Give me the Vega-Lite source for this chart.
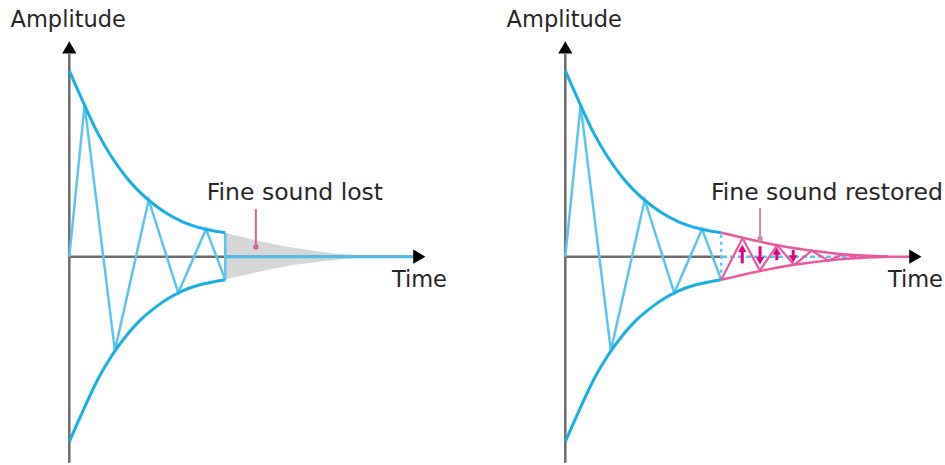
{
  "$schema": "https://vega.github.io/schema/vega-lite/v6.json",
  "background": "white",
  "padding": 0,
  "spacing": 5,
  "config": {"view": {"stroke": null}, "text": {"font": "DejaVu Sans", "fontSize": 22.5, "color": "#262626"}},
  "resolve": {"scale": {"x": "independent", "y": "independent", "shape": "independent"}},
  "datasets": {
    "env": [
      {"t": 0, "a": 1.0, "side": "u"}, {"t": 4, "a": 0.827, "side": "u"}, {"t": 8, "a": 0.664, "side": "u"}, {"t": 12, "a": 0.533, "side": "u"}, {"t": 16, "a": 0.427, "side": "u"}, {"t": 20, "a": 0.343, "side": "u"}, {"t": 24, "a": 0.278, "side": "u"}, {"t": 28, "a": 0.225, "side": "u"}, {"t": 32, "a": 0.186, "side": "u"}, {"t": 36, "a": 0.159, "side": "u"}, {"t": 40, "a": 0.141, "side": "u"}, {"t": 43.8, "a": 0.129, "side": "u"},
      {"t": 0, "a": -0.995, "side": "l"}, {"t": 4, "a": -0.822, "side": "l"}, {"t": 8, "a": -0.66, "side": "l"}, {"t": 12, "a": -0.53, "side": "l"}, {"t": 16, "a": -0.425, "side": "l"}, {"t": 20, "a": -0.34, "side": "l"}, {"t": 24, "a": -0.275, "side": "l"}, {"t": 28, "a": -0.222, "side": "l"}, {"t": 32, "a": -0.182, "side": "l"}, {"t": 36, "a": -0.155, "side": "l"}, {"t": 40, "a": -0.137, "side": "l"}, {"t": 43.8, "a": -0.124, "side": "l"}
    ],
    "envP": [
      {"t": 43.8, "a": 0.129, "side": "u"}, {"t": 48, "a": 0.11, "side": "u"}, {"t": 52, "a": 0.092, "side": "u"}, {"t": 56, "a": 0.075, "side": "u"}, {"t": 60, "a": 0.06, "side": "u"}, {"t": 65, "a": 0.044, "side": "u"}, {"t": 70, "a": 0.03, "side": "u"}, {"t": 75, "a": 0.019, "side": "u"}, {"t": 80, "a": 0.011, "side": "u"}, {"t": 85, "a": 0.005, "side": "u"}, {"t": 90.6, "a": 0, "side": "u"},
      {"t": 43.8, "a": -0.124, "side": "l"}, {"t": 48, "a": -0.106, "side": "l"}, {"t": 52, "a": -0.088, "side": "l"}, {"t": 56, "a": -0.072, "side": "l"}, {"t": 60, "a": -0.057, "side": "l"}, {"t": 65, "a": -0.042, "side": "l"}, {"t": 70, "a": -0.029, "side": "l"}, {"t": 75, "a": -0.018, "side": "l"}, {"t": 80, "a": -0.01, "side": "l"}, {"t": 85, "a": -0.004, "side": "l"}, {"t": 90.6, "a": 0, "side": "l"}
    ],
    "gray": [
      {"t": 43.7, "a": 0.129, "a2": -0.124}, {"t": 48, "a": 0.108, "a2": -0.104}, {"t": 52, "a": 0.09, "a2": -0.086}, {"t": 56, "a": 0.073, "a2": -0.07}, {"t": 60, "a": 0.058, "a2": -0.055}, {"t": 65, "a": 0.042, "a2": -0.04}, {"t": 70, "a": 0.028, "a2": -0.027}, {"t": 75, "a": 0.017, "a2": -0.016}, {"t": 80, "a": 0.009, "a2": -0.008}, {"t": 85, "a": 0.003, "a2": -0.003}, {"t": 88, "a": 0, "a2": 0}
    ],
    "osc": [
      {"t": 0, "a": 0}, {"t": 4.3, "a": 0.815}, {"t": 12.8, "a": -0.505}, {"t": 22.3, "a": 0.305}, {"t": 30.6, "a": -0.195}, {"t": 38.4, "a": 0.148}, {"t": 43.8, "a": -0.124}
    ],
    "zig": [
      {"t": 43.8, "a": -0.124}, {"t": 49.8, "a": 0.1}, {"t": 54.6, "a": -0.075}, {"t": 59.5, "a": 0.061}, {"t": 64.3, "a": -0.044}, {"t": 69.2, "a": 0.032}, {"t": 73.9, "a": -0.021}, {"t": 78.3, "a": 0.014}, {"t": 82.4, "a": -0.008}, {"t": 86.2, "a": 0.004}, {"t": 90.6, "a": 0}
    ],
    "shafts": [
      {"t": 49.7, "a": -0.036, "a2": 0.045}, {"t": 54.7, "a": 0.056, "a2": -0.022}, {"t": 59.4, "a": -0.019, "a2": 0.03}, {"t": 64.0, "a": 0.037, "a2": -0.012}
    ],
    "heads": [
      {"t": 49.7, "a": 0.045, "dir": "up"}, {"t": 54.7, "a": -0.022, "dir": "down"}, {"t": 59.4, "a": 0.03, "dir": "up"}, {"t": 64.0, "a": -0.012, "dir": "down"}
    ],
    "tips": [
      {"t": 0, "a": 1.125, "dir": "up"}, {"t": 98.3, "a": 0, "dir": "right"}
    ],
    "axesL": [
      {"t": 0, "t2": 0, "a": -1.108, "a2": 1.09}, {"t": 0, "t2": 97, "a": 0, "a2": 0}
    ],
    "axesR": [
      {"t": 0, "t2": 0, "a": -1.108, "a2": 1.09}, {"t": 0, "t2": 44, "a": 0, "a2": 0}
    ],
    "tailL": [{"t": 43.7, "t2": 97, "a": 0, "a2": 0}],
    "dashR": [{"t": 44, "t2": 86, "a": 0, "a2": 0}],
    "pinkR": [{"t": 84, "t2": 97, "a": 0, "a2": 0}],
    "cut": [{"t": 43.8, "t2": 43.8, "a": -0.124, "a2": 0.129}],
    "ptrL": [{"t": 52.4, "a": 0.052, "a2": 0.256}],
    "ptrR": [{"t": 54.7, "a": 0.095, "a2": 0.262}],
    "labL": [
      {"t": -0.3, "a": 1.273, "label": "Amplitude", "pos": "c"},
      {"t": 90.6, "a": -0.125, "label": "Time", "pos": "t"},
      {"t": 38.6, "a": 0.342, "label": "Fine sound lost", "pos": "f"}
    ],
    "labR": [
      {"t": -0.3, "a": 1.273, "label": "Amplitude", "pos": "c"},
      {"t": 90.6, "a": -0.125, "label": "Time", "pos": "t"},
      {"t": 40.9, "a": 0.342, "label": "Fine sound restored", "pos": "f"}
    ]
  },
  "hconcat": [
    {
      "width": 470,
      "height": 465,
      "encoding": {
        "x": {"field": "t", "type": "quantitative", "axis": null, "scale": {"domain": [-19.46, 112.54], "nice": false, "zero": false}},
        "y": {"field": "a", "type": "quantitative", "axis": null, "scale": {"domain": [-1.12, 1.38], "nice": false, "zero": false}}
      },
      "layer": [
        {"data": {"name": "gray"}, "mark": {"type": "area", "color": "#d6d6d6", "interpolate": "monotone"}, "encoding": {"y2": {"field": "a2"}}},
        {"data": {"name": "axesL"}, "mark": {"type": "rule", "color": "#6d6d6d", "strokeWidth": 2.5}, "encoding": {"x2": {"field": "t2"}, "y2": {"field": "a2"}}},
        {"data": {"name": "tailL"}, "mark": {"type": "rule", "color": "#4fbbe8", "strokeWidth": 3}, "encoding": {"x2": {"field": "t2"}, "y2": {"field": "a2"}}},
        {"data": {"name": "osc"}, "mark": {"type": "line", "color": "#5ec4ef", "strokeWidth": 2.5}, "encoding": {}},
        {"data": {"name": "cut"}, "mark": {"type": "rule", "color": "#5ec4ef", "strokeWidth": 2.5}, "encoding": {"x2": {"field": "t2"}, "y2": {"field": "a2"}}},
        {"data": {"name": "env"}, "mark": {"type": "line", "color": "#19aee6", "strokeWidth": 3, "interpolate": "monotone"}, "encoding": {"detail": {"field": "side"}}},
        {"data": {"name": "tips"}, "mark": {"type": "point", "filled": true, "color": "#000000", "size": 200, "opacity": 1}, "encoding": {"shape": {"field": "dir", "legend": null, "scale": {"domain": ["up", "right", "down"], "range": ["triangle-up", "triangle-right", "triangle-down"]}}}},
        {"data": {"name": "ptrL"}, "mark": {"type": "rule", "color": "#d0649c", "strokeWidth": 2}, "encoding": {"y2": {"field": "a2"}}},
        {"data": {"name": "ptrL"}, "mark": {"type": "point", "filled": true, "color": "#d0649c", "size": 30, "opacity": 1}, "encoding": {}},
        {"data": {"name": "labL"}, "transform": [{"filter": "datum.pos == 'c'"}], "mark": {"type": "text", "align": "center", "baseline": "middle"}, "encoding": {"text": {"field": "label"}}},
        {"data": {"name": "labL"}, "transform": [{"filter": "datum.pos == 't'"}], "mark": {"type": "text", "align": "left", "baseline": "middle"}, "encoding": {"text": {"field": "label"}}},
        {"data": {"name": "labL"}, "transform": [{"filter": "datum.pos == 'f'"}], "mark": {"type": "text", "align": "left", "baseline": "middle", "fontSize": 23.5}, "encoding": {"text": {"field": "label"}}}
      ]
    },
    {
      "width": 470,
      "height": 465,
      "encoding": {
        "x": {"field": "t", "type": "quantitative", "axis": null, "scale": {"domain": [-25.36, 106.64], "nice": false, "zero": false}},
        "y": {"field": "a", "type": "quantitative", "axis": null, "scale": {"domain": [-1.12, 1.38], "nice": false, "zero": false}}
      },
      "layer": [
        {"data": {"name": "axesR"}, "mark": {"type": "rule", "color": "#6d6d6d", "strokeWidth": 2.5}, "encoding": {"x2": {"field": "t2"}, "y2": {"field": "a2"}}},
        {"data": {"name": "dashR"}, "mark": {"type": "rule", "color": "#5ec4ef", "strokeWidth": 2.5, "strokeDash": [5, 3]}, "encoding": {"x2": {"field": "t2"}, "y2": {"field": "a2"}}},
        {"data": {"name": "pinkR"}, "mark": {"type": "rule", "color": "#e8589c", "strokeWidth": 2.5}, "encoding": {"x2": {"field": "t2"}, "y2": {"field": "a2"}}},
        {"data": {"name": "osc"}, "mark": {"type": "line", "color": "#5ec4ef", "strokeWidth": 2.5}, "encoding": {}},
        {"data": {"name": "cut"}, "mark": {"type": "rule", "color": "#5ec4ef", "strokeWidth": 2.5, "strokeDash": [3, 4]}, "encoding": {"x2": {"field": "t2"}, "y2": {"field": "a2"}}},
        {"data": {"name": "env"}, "mark": {"type": "line", "color": "#19aee6", "strokeWidth": 3, "interpolate": "monotone"}, "encoding": {"detail": {"field": "side"}}},
        {"data": {"name": "envP"}, "mark": {"type": "line", "color": "#e8589c", "strokeWidth": 2.5, "interpolate": "monotone"}, "encoding": {"detail": {"field": "side"}}},
        {"data": {"name": "zig"}, "mark": {"type": "line", "color": "#e8589c", "strokeWidth": 2.2}, "encoding": {}},
        {"data": {"name": "shafts"}, "mark": {"type": "rule", "color": "#e4007f", "strokeWidth": 3}, "encoding": {"y2": {"field": "a2"}}},
        {"data": {"name": "heads"}, "mark": {"type": "point", "filled": true, "color": "#e4007f", "size": 70, "opacity": 1}, "encoding": {"shape": {"field": "dir", "legend": null, "scale": {"domain": ["up", "right", "down"], "range": ["triangle-up", "triangle-right", "triangle-down"]}}}},
        {"data": {"name": "tips"}, "mark": {"type": "point", "filled": true, "color": "#000000", "size": 200, "opacity": 1}, "encoding": {"shape": {"field": "dir", "legend": null, "scale": {"domain": ["up", "right", "down"], "range": ["triangle-up", "triangle-right", "triangle-down"]}}}},
        {"data": {"name": "ptrR"}, "mark": {"type": "rule", "color": "#c98aa8", "strokeWidth": 2}, "encoding": {"y2": {"field": "a2"}}},
        {"data": {"name": "ptrR"}, "mark": {"type": "point", "shape": "square", "filled": true, "color": "#c98aa8", "size": 25, "opacity": 1}, "encoding": {}},
        {"data": {"name": "labR"}, "transform": [{"filter": "datum.pos == 'c'"}], "mark": {"type": "text", "align": "center", "baseline": "middle"}, "encoding": {"text": {"field": "label"}}},
        {"data": {"name": "labR"}, "transform": [{"filter": "datum.pos == 't'"}], "mark": {"type": "text", "align": "left", "baseline": "middle"}, "encoding": {"text": {"field": "label"}}},
        {"data": {"name": "labR"}, "transform": [{"filter": "datum.pos == 'f'"}], "mark": {"type": "text", "align": "left", "baseline": "middle", "fontSize": 23.5}, "encoding": {"text": {"field": "label"}}}
      ]
    }
  ]
}
